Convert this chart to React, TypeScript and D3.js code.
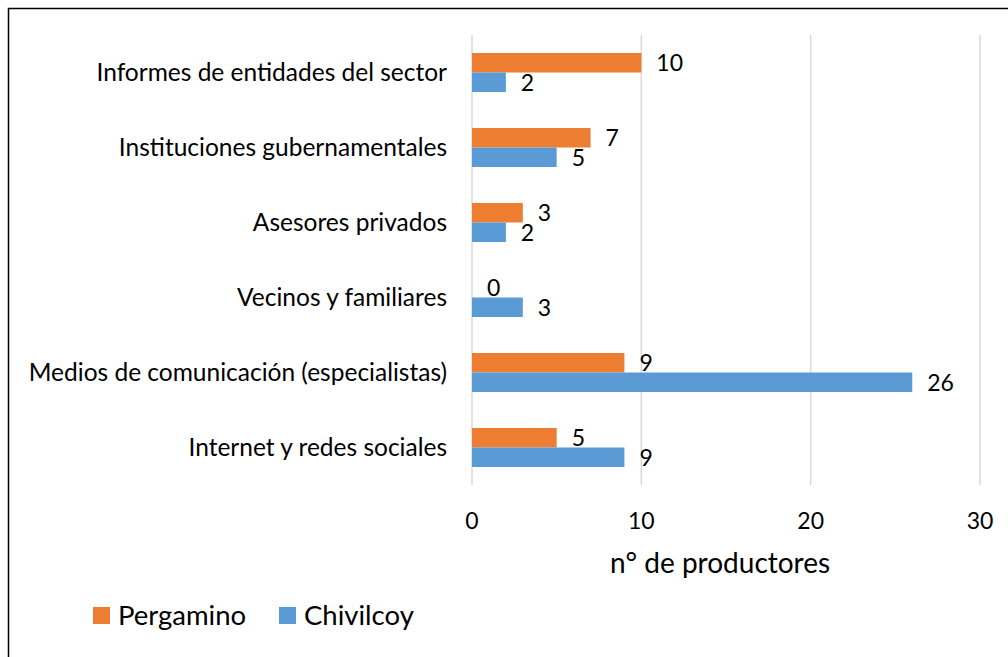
import React from "react";
import * as d3 from "d3";

const categories = [
  "Informes de entidades del sector",
  "Instituciones gubernamentales",
  "Asesores privados",
  "Vecinos y familiares",
  "Medios de comunicación (especialistas)",
  "Internet y redes sociales",
];
const seriesNames = ["Pergamino", "Chivilcoy"];
const pergamino = [10, 7, 3, 0, 9, 5];
const chivilcoy = [2, 5, 2, 3, 26, 9];
const xTicks = [0, 10, 20, 30];
const colors = ["#ED7D31", "#5B9BD5"];

const FONT = "Lato, 'Open Sans', sans-serif";

const App = () => {
  const width = 1008;
  const height = 657;
  const margin = { top: 35, left: 472, right: 28, bottom: 172 };

  const x = d3
    .scaleLinear()
    .domain([0, 30])
    .range([margin.left, width - margin.right]);

  const y = d3
    .scaleBand()
    .domain(categories)
    .range([margin.top, height - margin.bottom])
    .paddingInner(0.48)
    .paddingOuter(0.24);

  const inner = d3
    .scaleBand()
    .domain(seriesNames)
    .range([0, y.bandwidth()]);

  const values = [pergamino, chivilcoy];

  return (
    <svg
      width={width}
      height={height}
      style={{ display: "block", position: "absolute", left: 0, top: 0 }}
      fontFamily={FONT}
    >
      <rect x={0} y={0} width={width} height={height} fill="#fff" />
      {/* outer frame, cut off at right and bottom */}
      <path d={`M8.5,${height} V8.5 H${width}`} fill="none" stroke="#000" strokeWidth={1.5} />

      {/* gridlines */}
      {xTicks.map((t) => (
        <line
          key={t}
          x1={x(t)}
          x2={x(t)}
          y1={margin.top}
          y2={height - margin.bottom}
          stroke="#d9d9d9"
          strokeWidth={1.5}
        />
      ))}

      {/* bars */}
      {seriesNames.map((s, si) =>
        categories.map((c, ci) => (
          <rect
            key={s + c}
            x={x(0)}
            y={(y(c) as number) + (inner(s) as number)}
            width={x(values[si][ci]) - x(0)}
            height={inner.bandwidth()}
            fill={colors[si]}
          />
        ))
      )}

      {/* data labels */}
      {seriesNames.map((s, si) =>
        categories.map((c, ci) => (
          <text
            key={"l" + s + c}
            x={x(values[si][ci]) + 15}
            y={(y(c) as number) + (inner(s) as number) + inner.bandwidth() / 2}
            dy="0.36em"
            fontSize={23}
            fill="#000"
          >
            {values[si][ci]}
          </text>
        ))
      )}

      {/* category labels */}
      {categories.map((c) => (
        <text
          key={"c" + c}
          x={x(0) - 25}
          y={(y(c) as number) + y.bandwidth() / 2}
          dy="0.36em"
          textAnchor="end"
          fontSize={24.5}
          fill="#000"
        >
          {c}
        </text>
      ))}

      {/* x tick labels */}
      {xTicks.map((t) => (
        <text
          key={"t" + t}
          x={x(t)}
          y={521}
          dy="0.36em"
          textAnchor="middle"
          fontSize={23}
          fill="#000"
        >
          {t}
        </text>
      ))}

      {/* axis title */}
      <text
        x={(x(0) + x(30)) / 2 - 6}
        y={563}
        dy="0.36em"
        textAnchor="middle"
        fontSize={28}
        fill="#000"
      >
        n° de productores
      </text>

      {/* legend */}
      {seriesNames.map((s, i) => {
        const lx = [93, 279][i];
        return (
          <g key={"lg" + s}>
            <rect x={lx} y={607} width={17} height={17} fill={colors[i]} />
            <text x={lx + 25} y={615} dy="0.36em" fontSize={27.5} fill="#000">
              {s}
            </text>
          </g>
        );
      })}
    </svg>
  );
};

export default App;
